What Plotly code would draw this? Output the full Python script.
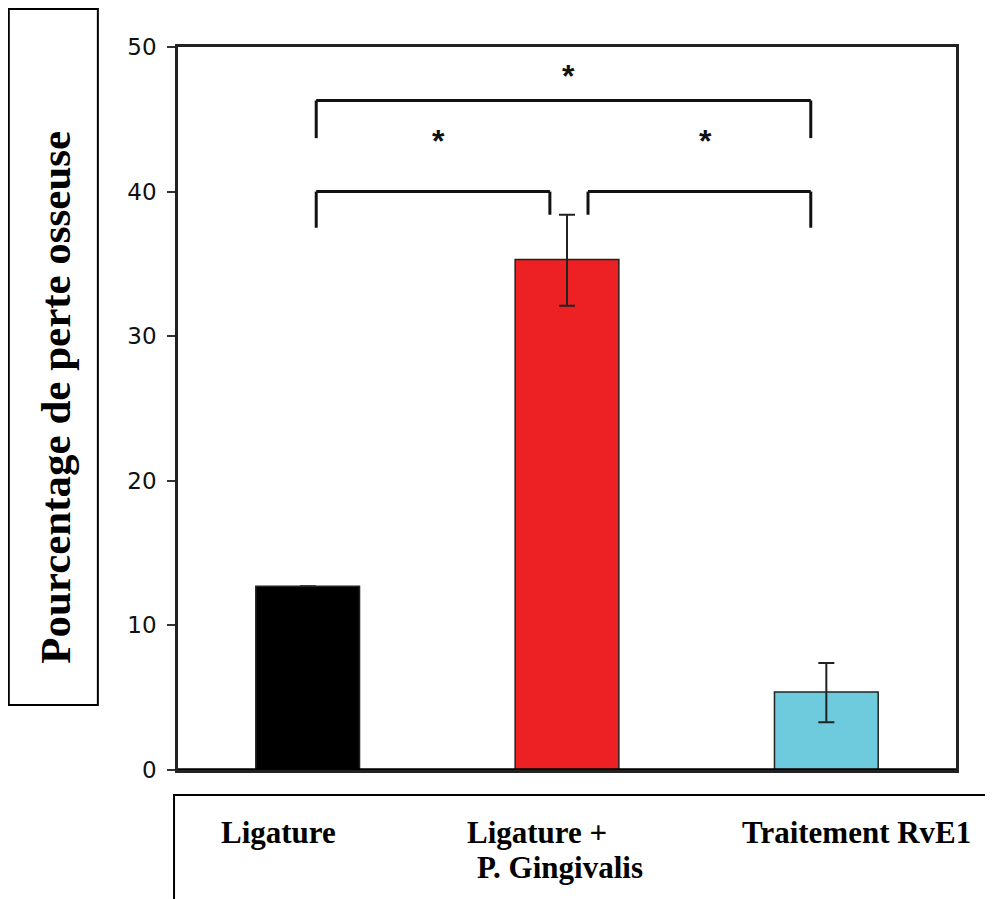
import plotly.graph_objects as go

categories = ["Ligature", "Ligature + P. Gingivalis", "Traitement RvE1"]
values = [12.7, 35.3, 5.4]
err_plus = [0.0, 3.1, 2.0]
err_minus = [0.0, 3.2, 2.1]
bar_colors = ["#000000", "#ED2024", "#6DCBDD"]
y_ticks = [0, 10, 20, 30, 40, 50]
y_title = "Pourcentage de perte osseuse"
x_labels = ["Ligature", "Ligature +", "P. Gingivalis", "Traitement RvE1"]
signif = ["*", "*", "*"]

fig = go.Figure()
fig.add_trace(go.Bar(
    x=[0, 1, 2], y=values, width=0.4,
    marker=dict(color=bar_colors, line=dict(color="#222222", width=1.5)),
    error_y=dict(type="data", array=err_plus, arrayminus=err_minus, symmetric=False,
                 color="#222222", thickness=2, width=8),
    hovertext=categories, showlegend=False,
))

line = dict(color="#111111", width=3)
def seg(x0, y0, x1, y1):
    fig.add_shape(type="line", xref="x", yref="y", x0=x0, y0=y0, x1=x1, y1=y1, line=line)

seg(0.033, 43.7, 0.033, 46.3); seg(0.033, 46.3, 1.94, 46.3); seg(1.94, 46.3, 1.94, 43.7)
seg(0.033, 37.5, 0.033, 40.0); seg(0.033, 40.0, 0.934, 40.0); seg(0.934, 40.0, 0.934, 38.4)
seg(1.081, 38.4, 1.081, 40.0); seg(1.081, 40.0, 1.94, 40.0); seg(1.94, 40.0, 1.94, 37.5)

# heavier baseline
fig.add_shape(type="line", xref="paper", yref="y", x0=0, x1=1, y0=0, y1=0,
              line=dict(color="#000000", width=3.5))

star_pos = [(1.004, 48.3), (0.505, 43.8), (1.534, 43.8)]
for s, (sx, sy) in zip(signif, star_pos):
    fig.add_annotation(x=sx, y=sy, xref="x", yref="y", text=s, showarrow=False,
                       xanchor="center", yanchor="middle",
                       font=dict(family="Liberation Sans", size=32, color="#111111", weight="bold"),
                       yshift=-4)

fig.add_shape(type="rect", xref="paper", yref="paper", x0=-0.2175, x1=-0.1030,
              y0=0.0899, y1=1.0526, line=dict(color="#000000", width=2), fillcolor="rgba(0,0,0,0)")
fig.add_annotation(x=-0.1583, y=0.5159, xref="paper", yref="paper", text=y_title,
                   textangle=-90, showarrow=False, xanchor="center", yanchor="middle",
                   font=dict(family="Liberation Serif", size=43, color="#000000", weight="bold"))

fig.add_shape(type="rect", xref="paper", yref="paper", x0=-0.0051, x1=1.06,
              y0=-0.19, y1=-0.0346, line=dict(color="#000000", width=2), fillcolor="rgba(0,0,0,0)")
label_pos = [(0.1287, -0.0858), (0.462, -0.0858), (0.4916, -0.1355), (0.8726, -0.0858)]
for t, (lx, ly) in zip(x_labels, label_pos):
    fig.add_annotation(x=lx, y=ly, xref="paper", yref="paper", text=t, showarrow=False,
                       xanchor="center", yanchor="middle",
                       font=dict(family="Liberation Serif", size=31, color="#000000", weight="bold"))

fig.update_layout(
    width=985, height=891,
    margin=dict(l=170, r=37, t=39, b=129),
    paper_bgcolor="white", plot_bgcolor="white",
)
fig.update_xaxes(range=[-0.5, 2.5], showticklabels=False, ticks="", showgrid=False,
                 zeroline=False, showline=True, mirror=True, linecolor="#222222", linewidth=2.5)
fig.update_yaxes(range=[0, 50], tickvals=y_ticks, ticks="outside", ticklen=8, tickwidth=2,
                 tickcolor="#333333", showgrid=False, zeroline=False, showline=True,
                 mirror=True, linecolor="#222222", linewidth=2.5, ticklabelstandoff=6,
                 tickfont=dict(family="DejaVu Sans", size=23, color="#111111"))

fig.write_html("out.html")
